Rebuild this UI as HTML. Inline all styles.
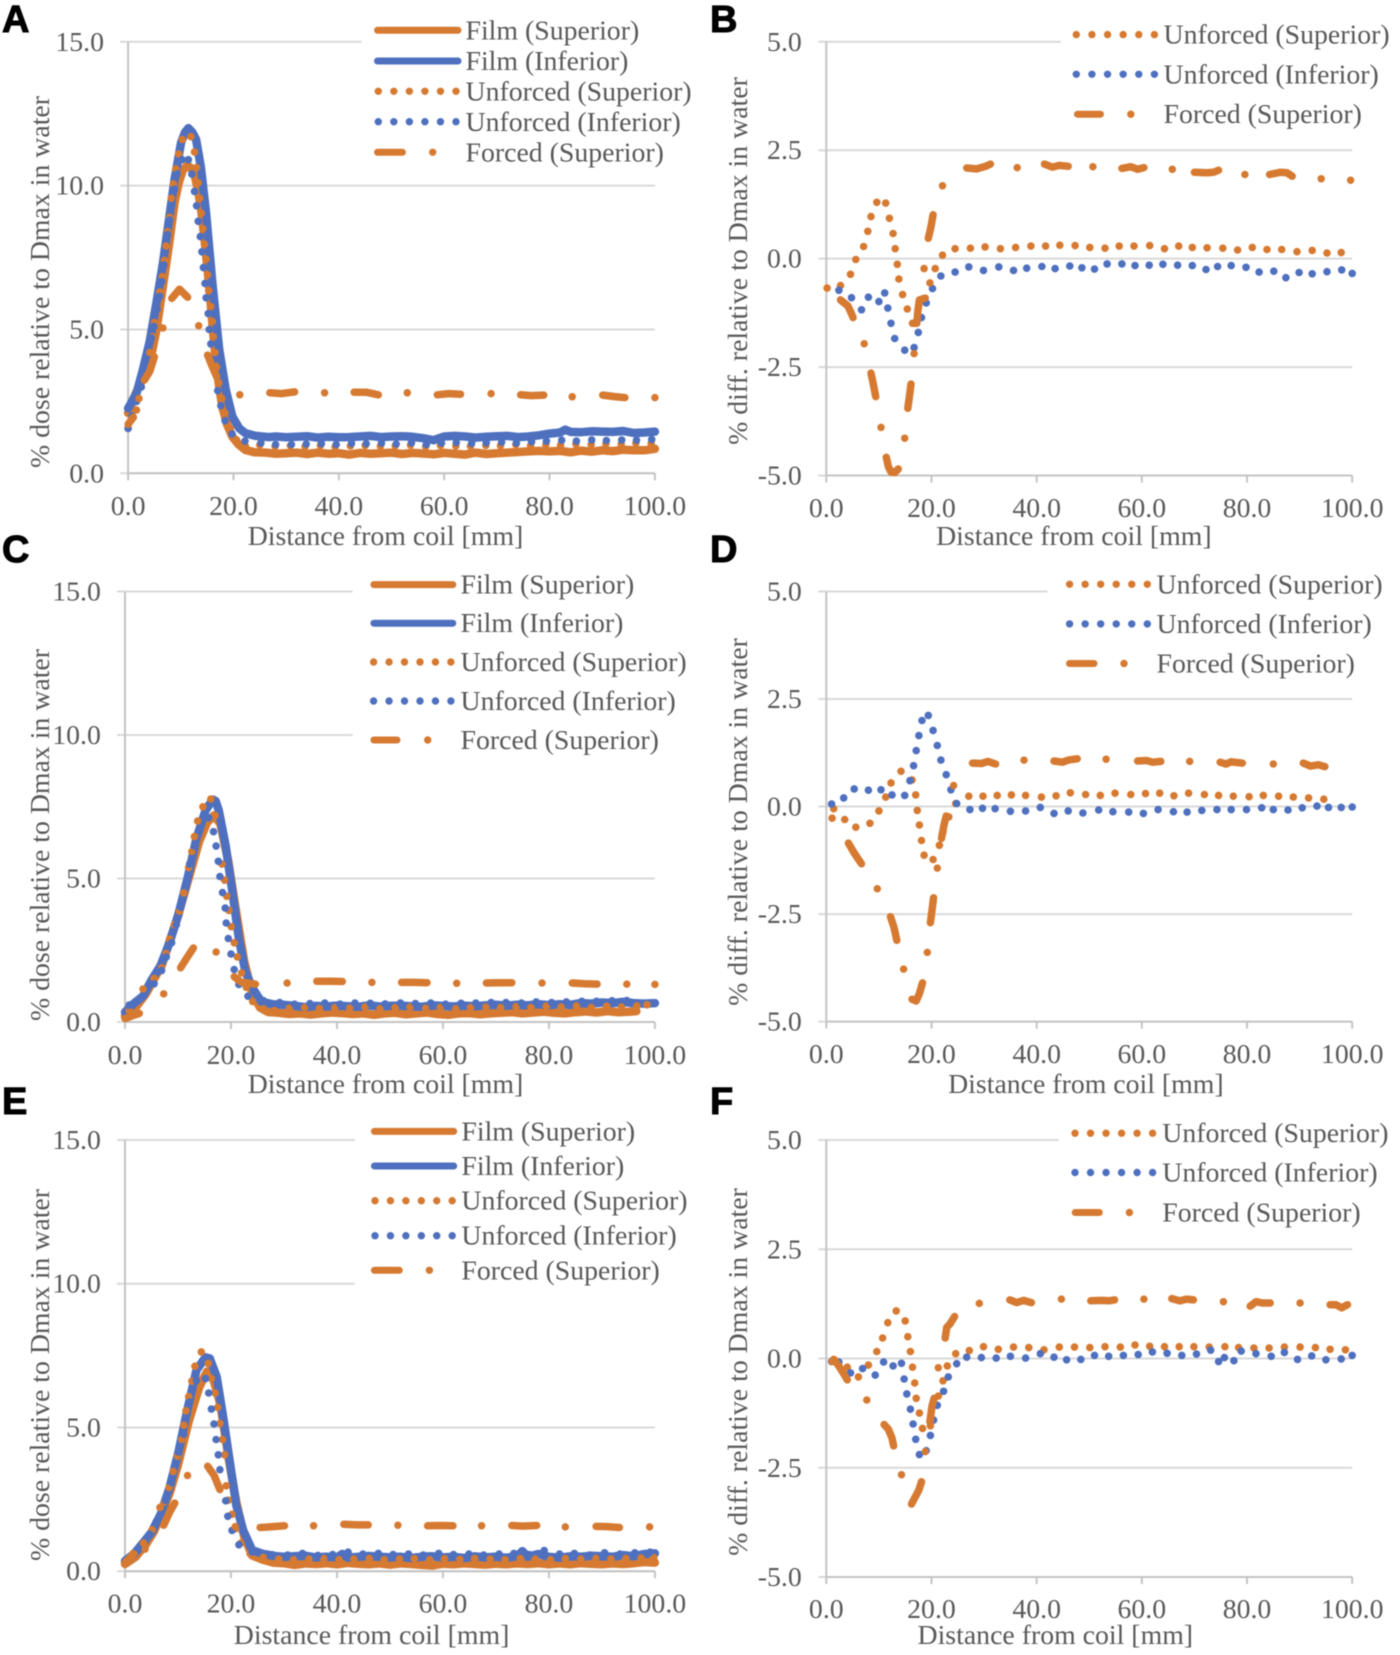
<!DOCTYPE html>
<html lang="en">
<head>
<meta charset="utf-8">
<title>Dose profile charts</title>
<style>
html,body{margin:0;padding:0;background:#fff;}
svg{display:block;filter:blur(0.5px);}
text{font-family:"Liberation Serif",serif;font-size:27.8px;fill:#595959;}
.letter{font-family:"Liberation Sans",sans-serif;font-weight:bold;font-size:38px;fill:#000;stroke:#000;stroke-width:1px;}
.mid{text-anchor:middle;}
</style>
</head>
<body>
<svg id="figure" xmlns="http://www.w3.org/2000/svg" width="1400" height="1655" viewBox="0 0 1400 1655">
<rect x="0" y="0" width="1400" height="1655" fill="#fff"/>

<g id="panel-a"></g>
<g id="panel-b"></g>
<g id="panel-c"></g>
<g id="panel-d"></g>
<g id="panel-e"></g>
<g id="panel-f"></g>

<g>
<text class="letter" x="2" y="32">A</text>
<text class="letter" x="710" y="32">B</text>
<text class="letter" x="2" y="562">C</text>
<text class="letter" x="710" y="562">D</text>
<text class="letter" x="2" y="1114">E</text>
<text class="letter" x="710" y="1114">F</text>
</g>

<g>
<text class="mid" transform="translate(49,282) rotate(-90)">% dose relative to Dmax in water</text>
<text class="mid" transform="translate(747,261) rotate(-90)">% diff. relative to Dmax in water</text>
<text class="mid" transform="translate(49,835) rotate(-90)">% dose relative to Dmax in water</text>
<text class="mid" transform="translate(747,822) rotate(-90)">% diff. relative to Dmax in water</text>
<text class="mid" transform="translate(49,1375) rotate(-90)">% dose relative to Dmax in water</text>
<text class="mid" transform="translate(747,1372) rotate(-90)">% diff. relative to Dmax in water</text>
<text class="mid" x="385.5" y="545">Distance from coil [mm]</text>
<text class="mid" x="1073.9" y="545">Distance from coil [mm]</text>
<text class="mid" x="385.5" y="1093">Distance from coil [mm]</text>
<text class="mid" x="1085.9" y="1093">Distance from coil [mm]</text>
<text class="mid" x="371.6" y="1644">Distance from coil [mm]</text>
<text class="mid" x="1055.3" y="1644">Distance from coil [mm]</text>
</g>

<g stroke-linecap="round">
<line x1="377.5" x2="458" y1="30.3" y2="30.3" stroke="#d67a32" stroke-width="7"/>
<text x="465.5" y="39.5">Film (Superior)</text>
<line x1="377.5" x2="458" y1="61" y2="61" stroke="#4e70bf" stroke-width="7"/>
<text x="465.5" y="70">Film (Inferior)</text>
<line x1="378.3" x2="456.3" y1="91.3" y2="91.3" stroke="#d67a32" stroke-width="7.4" stroke-dasharray="0 15.54"/>
<text x="465.5" y="100.5">Unforced (Superior)</text>
<line x1="378.3" x2="456.3" y1="121.7" y2="121.7" stroke="#4e70bf" stroke-width="7.4" stroke-dasharray="0 15.54"/>
<text x="465.5" y="131">Unforced (Inferior)</text>
<line x1="377.5" x2="402.5" y1="152.3" y2="152.3" stroke="#d67a32" stroke-width="7"/>
<circle cx="432.7" cy="152.3" r="3.7" fill="#d67a32"/>
<text x="465.5" y="161.5">Forced (Superior)</text>
</g>

<g stroke-linecap="round">
<line x1="1076.3" x2="1154.7" y1="34.6" y2="34.6" stroke="#d67a32" stroke-width="7.4" stroke-dasharray="0 15.62"/>
<text x="1163.5" y="43.6">Unforced (Superior)</text>
<line x1="1076.3" x2="1154.7" y1="74.3" y2="74.3" stroke="#4e70bf" stroke-width="7.4" stroke-dasharray="0 15.62"/>
<text x="1163.5" y="83.3">Unforced (Inferior)</text>
<line x1="1077.5" x2="1100.5" y1="114.2" y2="114.2" stroke="#d67a32" stroke-width="7"/>
<circle cx="1130.8" cy="114.2" r="3.7" fill="#d67a32"/>
<text x="1163.5" y="123.2">Forced (Superior)</text>
</g>

<g stroke-linecap="round">
<line x1="373.9" x2="452.8" y1="584.6" y2="584.6" stroke="#d67a32" stroke-width="7"/>
<text x="460.5" y="593.6">Film (Superior)</text>
<line x1="373.9" x2="452.8" y1="623.2" y2="623.2" stroke="#4e70bf" stroke-width="7"/>
<text x="460.5" y="632.2">Film (Inferior)</text>
<line x1="373.6" x2="451.2" y1="662" y2="662" stroke="#d67a32" stroke-width="7.4" stroke-dasharray="0 15.46"/>
<text x="460.5" y="671">Unforced (Superior)</text>
<line x1="373.6" x2="451.2" y1="701" y2="701" stroke="#4e70bf" stroke-width="7.4" stroke-dasharray="0 15.46"/>
<text x="460.5" y="710">Unforced (Inferior)</text>
<line x1="373.9" x2="397" y1="740" y2="740" stroke="#d67a32" stroke-width="7"/>
<circle cx="427.7" cy="740" r="3.7" fill="#d67a32"/>
<text x="460.5" y="749">Forced (Superior)</text>
</g>

<g stroke-linecap="round">
<line x1="1069.6" x2="1147.6" y1="584.3" y2="584.3" stroke="#d67a32" stroke-width="7.4" stroke-dasharray="0 15.54"/>
<text x="1156.5" y="593.3">Unforced (Superior)</text>
<line x1="1069.6" x2="1147.6" y1="623.9" y2="623.9" stroke="#4e70bf" stroke-width="7.4" stroke-dasharray="0 15.54"/>
<text x="1156.5" y="632.9">Unforced (Inferior)</text>
<line x1="1069.5" x2="1094" y1="663.5" y2="663.5" stroke="#d67a32" stroke-width="7"/>
<circle cx="1124" cy="663.5" r="3.7" fill="#d67a32"/>
<text x="1156.5" y="672.5">Forced (Superior)</text>
</g>

<g stroke-linecap="round">
<line x1="374.4" x2="453.7" y1="1131.4" y2="1131.4" stroke="#d67a32" stroke-width="7"/>
<text x="461.4" y="1140.4">Film (Superior)</text>
<line x1="374.4" x2="453.7" y1="1166" y2="1166" stroke="#4e70bf" stroke-width="7"/>
<text x="461.4" y="1175">Film (Inferior)</text>
<line x1="375" x2="452.5" y1="1200.7" y2="1200.7" stroke="#d67a32" stroke-width="7.4" stroke-dasharray="0 15.44"/>
<text x="461.4" y="1209.7">Unforced (Superior)</text>
<line x1="375" x2="452.5" y1="1235.7" y2="1235.7" stroke="#4e70bf" stroke-width="7.4" stroke-dasharray="0 15.44"/>
<text x="461.4" y="1244.7">Unforced (Inferior)</text>
<line x1="374.4" x2="399.3" y1="1270.3" y2="1270.3" stroke="#d67a32" stroke-width="7"/>
<circle cx="429.4" cy="1270.3" r="3.7" fill="#d67a32"/>
<text x="461.4" y="1279.3">Forced (Superior)</text>
</g>

<g stroke-linecap="round">
<line x1="1075" x2="1152.9" y1="1133.2" y2="1133.2" stroke="#d67a32" stroke-width="7.4" stroke-dasharray="0 15.52"/>
<text x="1162.3" y="1142.2">Unforced (Superior)</text>
<line x1="1075" x2="1152.9" y1="1172.5" y2="1172.5" stroke="#4e70bf" stroke-width="7.4" stroke-dasharray="0 15.52"/>
<text x="1162.3" y="1181.5">Unforced (Inferior)</text>
<line x1="1075.2" x2="1099.3" y1="1212.5" y2="1212.5" stroke="#d67a32" stroke-width="7"/>
<circle cx="1129.4" cy="1212.5" r="3.7" fill="#d67a32"/>
<text x="1162.3" y="1221.5">Forced (Superior)</text>
</g>
</svg>

<script>
/* ---------- Shared axis values ---------- */
const xTickValues = [0, 20, 40, 60, 80, 100];
const xTickLabels = ['0.0', '20.0', '40.0', '60.0', '80.0', '100.0'];
const doseTickValues = [0, 5, 10, 15];
const doseTickLabels = ['0.0', '5.0', '10.0', '15.0'];
const diffTickValues = [-5, -2.5, 0, 2.5, 5];
const diffTickLabels = ['-5.0', '-2.5', '0.0', '2.5', '5.0'];

/* ---------- Panel A ---------- */
const aFilmSupX = [0,1.5,2.8,4.1,5.4,6.6,7.8,8.8,9.6,10.4,11.3,12,12.6,13.2,13.8,14.6,15.4,16.1,16.7,17.3,17.9,18.8,19.8,21,22.3,24,26.1,28,30,32,34,36,38,40,42,44,46,48,50,52,54,56,58,60,62,64,66,68,70,72,74,76,78,80,82,84,86,88,90,92,94,96,98,100];
const aFilmSupY = [2.1,2.8,3.3,3.83,5,6.5,8,9.4,10.1,10.55,10.7,10.6,10.4,9.9,9.27,8,6.5,5,3.83,3,2.3,1.7,1.27,1,.81,.73,.72,.68,.7,.72,.67,.72,.68,.7,.65,.71,.68,.7,.72,.67,.71,.69,.66,.71,.68,.65,.72,.67,.7,.72,.74,.76,.78,.76,.78,.73,.79,.75,.8,.77,.82,.8,.8,.85];
const aFilmInfX = [0,1.6,2.8,4.1,5.35,6.6,7.9,8.8,10.06,10.8,11.45,12.2,12.9,13.8,14.8,16,17.3,18.55,19.8,21.1,22.3,24.2,26.7,28,30,32,34,36,38,40,42,44,46,48,50,52,54,56,58,60,62,64,66,68,70,72,74,76,78,80,82,83,84,86,88,90,92,94,96,98,100];
const aFilmInfY = [2.26,2.78,3.6,4.58,5.9,7.3,9,10.2,11.5,11.85,12,11.85,11.6,10.66,9.04,6.6,4.3,2.9,1.97,1.56,1.39,1.3,1.26,1.28,1.25,1.27,1.29,1.24,1.27,1.25,1.26,1.28,1.3,1.26,1.28,1.29,1.27,1.22,1.15,1.28,1.3,1.28,1.24,1.27,1.29,1.3,1.26,1.28,1.32,1.38,1.42,1.52,1.44,1.43,1.46,1.45,1.44,1.47,1.4,1.42,1.45];
const aUnfSupX = [0,1.6,4.1,4.6,5,5.5,6,6.5,6.9,7.2,7.5,7.9,8.2,8.6,9.06,9.6,10.3,11.9,12.6,13,13.3,13.6,13.9,14.2,14.5,14.8,15.1,15.3,15.7,16,16.2,16.5,16.8,17.2,17.8,18.4,19.4,20.6,22.3,25,27.9,30.8,33.6,36.5,39.3,42.2,45,47.9,50.7,53.6,56.5,59.3,62.2,65,67.9,70.7,73.6,76.4,79.3,82.1,85,87.9,90.7,93.6,96.4,99.3];
const aUnfSupY = [1.56,2.2,4.2,4.75,5.24,5.7,6.3,6.84,7.4,7.9,8.4,8.9,9.56,10.06,10.58,11.1,11.6,11.7,11.17,10.63,10.1,9.56,9.04,8.5,7.96,7.44,6.9,6.35,5.8,5.28,4.75,4.2,3.7,3.15,2.6,2.09,1.56,1.16,.93,.98,.94,.96,.93,.97,.92,.95,.97,.94,.96,.98,.93,.97,.95,.94,.97,.96,1,.97,1,.98,1.02,1,1.03,1.02,1.05,1.04];
const aUnfInfX = [0,.75,1.6,2.5,3.4,4.4,4.9,5.5,6,6.4,6.8,7.5,7.9,8.3,8.8,9.3,10.25,11.45,12.1,12.6,13,13.3,13.7,14,14.3,14.6,14.8,15.2,15.4,15.7,16.2,17,17.6,18.4,19.75,22.2,25.2,28,31,33.8,36.7,39.5,42.4,45.2,48.1,50.9,53.8,56.6,59.5,62.3,65.2,68,70.9,73.7,76.6,79.4,82.3,85.1,88,90.8,93.7,96.5,99.4];
const aUnfInfY = [1.56,2,2.5,3,3.7,4.7,5.1,5.7,6.15,6.66,7.24,8.3,8.8,9.3,9.87,10.4,10.9,10.9,10.4,9.8,9.3,8.76,8.23,7.7,7.15,6.6,6.1,5.55,5,4.5,3.95,2.87,2.35,1.83,1.37,1.12,1.05,1,1,1.02,1.03,1,1.04,1.03,1.05,1.02,1.06,1,1.05,1.07,1.04,1.06,1.08,1.05,1.1,1.12,1.15,1.12,1.16,1.14,1.16,1.15,1.18];
const aForcedX = [0,1,null,2.07,null,3.1,4.1,5,null,6.6,null,8.3,9.75,11.3,null,13.4,null,15.1,16,16.8,null,21.2,null,26.9,29.1,31.6,null,37.3,null,42.9,45.2,47.5,null,53,null,58.7,60.8,63.1,null,68.9,null,74.5,76.5,78.9,null,84.3,null,90.1,92.2,94.3,null,100];
const aForcedY = [1.7,1.95,null,2.6,null,3.24,3.54,4.05,null,5.05,null,6.08,6.4,6.12,null,5.13,null,4.11,3.7,3.36,null,2.73,null,2.8,2.77,2.83,null,2.8,null,2.82,2.82,2.73,null,2.8,null,2.73,2.77,2.75,null,2.77,null,2.73,2.7,2.72,null,2.66,null,2.72,2.67,2.63,null,2.63];

/* ---------- Panel B ---------- */
const bUnfSupX = [.16,2.7,4.6,5.6,7.1,7.9,8.5,9.6,11.3,12,12.7,13.1,13.5,13.8,14.5,15.4,18.6,20.7,22.1,24.5,27.4,30.2,33.1,36,38.9,41.7,44.4,47.3,50.1,53,55.7,58.5,61.5,64.3,67,69.6,72.4,75.4,78.2,81,83.8,86.6,89.5,92.4,95.2,97.9];
const bUnfSupY = [-.68,-.62,-.36,-.02,.28,.63,.97,1.3,1.28,.93,.58,.23,-.13,-.47,-.83,-1.16,-.23,-.23,.08,.23,.24,.27,.23,.26,.29,.29,.31,.3,.26,.24,.29,.29,.3,.23,.29,.26,.25,.24,.2,.26,.21,.21,.16,.19,.13,.14];
const bUnfInfX = [2.4,4.8,6.7,8,10,11.1,11.7,12.3,13,14.9,16.7,17.5,18.1,19,20.2,21.8,24.5,27.1,29.9,32.8,35.6,38.1,41,43.5,46.3,48.6,51,53.4,56.2,58.7,61.4,64,66.8,69.6,72.2,74.4,77,79.8,82.3,85.1,87.4,89.9,92.4,95.2,98,100];
const bUnfInfY = [-.73,-.9,-1.18,-.89,-.99,-.79,-1.14,-1.49,-1.84,-2.11,-2.05,-1.7,-1.36,-1.02,-.69,-.4,-.31,-.19,-.27,-.19,-.27,-.22,-.18,-.23,-.17,-.21,-.24,-.12,-.12,-.16,-.15,-.13,-.15,-.16,-.25,-.18,-.16,-.2,-.31,-.29,-.44,-.32,-.35,-.3,-.26,-.34];
const bForcedX = [2.7,3.4,4.1,4.6,5.1,null,7.2,null,8.5,8.9,9.4,null,10.4,null,11.4,11.8,12.3,13,13.7,null,14.9,null,15.5,15.8,16.1,null,16.7,null,16.4,17.2,17.4,17.7,18.8,null,19.7,null,19.4,19.9,20.3,null,22.1,null,26.7,28.6,30.3,31.2,null,36.3,null,41.5,43,44.3,46,null,50.7,null,56.2,57.9,59.2,60.4,null,65.8,null,70,72.3,73.6,74.6,null,79.6,null,84.3,86.3,87.6,88.6,null,94.1,null,99.7];
const bForcedY = [-.95,-1.02,-1.09,-1.22,-1.36,null,-1.96,null,-2.64,-2.87,-3.18,null,-3.89,null,-4.58,-4.8,-4.92,-4.93,-4.85,null,-4.14,null,-3.45,-3.18,-2.89,null,-2.19,null,-1.49,-1.49,-1.22,-.95,-.91,null,-.56,null,.47,.74,1.01,null,1.68,null,2.09,2.07,2.13,2.18,null,2.1,null,2.18,2.11,2.15,2.13,null,2.12,null,2.08,2.12,2.06,2.1,null,2.06,null,1.99,1.98,1.99,2.04,null,1.94,null,1.94,1.99,1.98,1.9,null,1.84,null,1.81];

/* ---------- Panel C ---------- */
const cFilmSupX = [0,2,4,5.5,7,8.5,10,12,14,15.5,16.8,18,19.5,21,22.5,24,25.5,27,29,31,33,35,37,39,41,43,45,47,49,51,53,55,57,59,61,63,65,67,69,71,73,75,77,79,81,83,85,87,89,91,93,95,96.5];
const cFilmSupY = [.2,.5,1,1.5,2,2.85,3.7,5,6.3,6.95,7.2,6.9,5.6,3.8,2.1,1,.5,.35,.32,.28,.3,.26,.3,.33,.31,.28,.3,.25,.3,.32,.27,.3,.33,.28,.25,.3,.31,.27,.3,.32,.34,.3,.33,.36,.32,.3,.34,.37,.33,.38,.34,.36,.38];
const cFilmInfX = [0,1.7,3.4,5,6.7,8.4,10.1,11.8,13.5,15.2,16,16.6,17.1,17.7,19,20.2,21.5,22.7,24,25.7,27.8,30,32,34,36,38,40,42,44,46,48,50,52,54,56,58,60,62,64,66,68,70,72,74,76,78,80,82,84,86,88,90,92,94,96,98,100];
const cFilmInfY = [.34,.65,.9,1.46,1.96,2.76,3.76,5,6.4,7.37,7.6,7.75,7.7,7.37,6.13,4.63,2.9,1.77,1.2,.71,.62,.6,.56,.52,.56,.54,.57,.55,.53,.58,.54,.56,.57,.55,.53,.58,.56,.54,.57,.55,.58,.6,.57,.6,.58,.62,.59,.62,.6,.66,.64,.68,.66,.7,.66,.64,.66];
const cUnfSupX = [.8,3.4,5.5,6.9,7.75,8.4,9.3,10.3,11.1,12,12.6,13.1,13.7,14.7,16.2,17,18.3,18.8,19.2,19.6,20.05,20.6,21.2,22,22.9,24.1,26.1,28.2,31,33.9,36.7,39.6,42.4,45.3,48.1,51,53.8,56.7,59.5,62.4,65.2,68.1,70.9,73.8,76.6,79.5,82.3,85.2,88,90.9,93.7,96.6,98.5];
const cUnfSupY = [.4,1.15,1.52,1.89,2.39,2.89,3.39,3.86,4.5,5.38,5.94,6.46,7,7.5,7.77,7.19,5.5,4.94,4.38,3.89,3.32,2.76,2.27,1.71,1.21,.71,.46,.4,.48,.5,.47,.5,.48,.52,.46,.5,.52,.48,.5,.46,.5,.52,.5,.54,.5,.55,.52,.56,.5,.55,.52,.56,.6];
const cUnfInfX = [.8,3.5,5.5,6.9,7.8,8.8,9.7,10.5,11.4,12.2,13.1,13.9,15.8,16.7,17.2,17.6,17.9,18.4,18.9,19.1,19.5,20,20.6,21.5,23.2,26.1,29.2,32,34.9,37.7,40.6,43.4,46.3,49.1,52,54.8,57.7,60.5,63.4,66.2,69.1,71.9,74.8,77.6,80.5,83.3,86.2,89,91.9,94.7];
const cUnfInfY = [.59,.9,1.33,1.79,2.27,2.76,3.39,4,4.76,5.5,6.13,6.69,7.12,6.63,6.13,5.6,5.07,4.51,3.97,3.45,2.91,2.37,1.83,1.31,.9,.75,.68,.62,.64,.66,.62,.66,.65,.63,.66,.64,.66,.62,.65,.66,.68,.68,.66,.7,.68,.7,.72,.72,.74,.75];
const cForcedX = [0,1.3,2.7,null,7.3,null,10.5,11.8,12.9,null,17.2,null,20.6,21.9,24.6,null,30.6,null,36.2,38.8,41,null,46.6,null,52.2,54.8,57,null,62.6,null,68.2,70.4,73,null,78.7,null,84.4,86.8,89.1,null,94.7,null,100];
const cForcedY = [.12,.21,.3,null,.98,null,1.89,2.27,2.58,null,2.44,null,1.58,1.39,1.32,null,1.36,null,1.42,1.42,1.41,null,1.38,null,1.38,1.38,1.37,null,1.35,null,1.36,1.37,1.37,null,1.36,null,1.36,1.33,1.32,null,1.32,null,1.31];

/* ---------- Panel D ---------- */
const dUnfSupX = [1.1,1.4,3.5,5.6,8.3,10,11.3,12.3,14.2,16.3,17,17.3,17.7,18.1,18.6,20.3,21.5,22.2,23.3,24.6,27.1,29.8,32.5,35.2,37.9,40.9,43.7,46.4,49.3,52.1,54.9,57.9,60.7,63.4,66.1,68.9,71.9,74.6,77.4,80.4,83.1,86,88.8,91.7,94.6];
const dUnfSupY = [-.27,-.05,-.3,-.48,-.39,-.1,.22,.55,.82,.62,.27,-.09,-.43,-.79,-1.13,-1.23,-.9,-.59,-.24,.07,.24,.24,.26,.27,.26,.22,.25,.32,.28,.26,.31,.28,.3,.31,.25,.31,.28,.26,.24,.23,.26,.24,.22,.2,.17];
const dUnfInfX = [1,3.3,5.3,8,10.4,12.5,14.9,15.9,16.6,17.1,17.6,18.2,19.4,20.3,21.1,21.8,22.8,23.7,24.8,27.3,29.7,32.1,35,37.9,40.7,43.3,46,48.8,51.8,54.5,57.5,60.3,63.1,66,68.6,71.4,74.3,77,79.9,82.8,85,87.8,90.5,93.3,95.5,97.9,100];
const dUnfInfY = [.06,.2,.41,.38,.39,.27,.26,.6,.95,1.3,1.65,2,2.12,1.77,1.42,1.08,.74,.39,.07,-.07,-.04,-.05,-.11,-.1,-.02,-.16,-.1,-.15,-.08,-.12,-.13,-.16,-.07,-.12,-.13,-.09,-.07,-.07,-.07,-.03,-.07,-.08,-.03,.01,-.02,-.02,-.01];
const dForcedX = [4.2,5.3,6.7,null,9.7,null,12.2,12.9,13.4,null,14.7,null,16.3,17.1,17.7,18.3,null,19.2,null,19.8,20.1,20.4,null,21.1,null,21.9,22.4,22.8,null,24.2,null,27.8,29.5,30.7,32.2,null,37.6,null,43.3,44.9,46,47.7,null,53.2,null,59.2,60.9,62.1,63.6,null,69.1,null,74.9,76,77,79.1,null,85,null,90.7,92.1,93.5,94.8];
const dForcedY = [-.85,-1.08,-1.33,null,-1.91,null,-2.56,-2.82,-3.11,null,-3.78,null,-4.48,-4.52,-4.35,-4.1,null,-3.39,null,-2.7,-2.41,-2.12,null,-1.43,null,-.74,-.42,-.22,null,.49,null,1.01,1,1.05,.99,null,1.08,null,1.06,1.03,1.08,1.11,null,1.1,null,1.06,1.07,1.03,1.05,null,1.05,null,1.03,.99,1.04,1.01,null,.99,null,1.01,.94,.97,.93];

/* ---------- Panel E ---------- */
const eFilmSupX = [0,2,4,5.5,7,8.5,10,12,14,15.5,16.5,18,19.5,21,22.5,24,26,28,30,32,34,36,38,40,42,44,46,48,50,52,54,56,58,60,62,64,66,68,70,72,74,76,78,80,82,84,86,88,90,92,94,96,98,100];
const eFilmSupY = [.25,.5,.95,1.4,2.05,2.75,3.7,5.2,6.4,6.95,6.8,5.8,4,2.4,1.2,.55,.4,.3,.28,.22,.27,.25,.28,.24,.29,.26,.24,.27,.23,.27,.25,.22,.2,.26,.24,.27,.25,.23,.26,.24,.27,.25,.28,.24,.27,.24,.28,.26,.24,.27,.25,.28,.32,.3];
const eFilmInfX = [0,1.7,3.4,5,6.7,8.4,10.1,11.8,13.5,15.2,16,17.3,18.5,19.8,21,22.3,24,26.1,28.6,30,32,34,36,38,40,41,42,44,46,48,50,52,54,56,58,60,62,64,66,68,70,72,74,75,76,78,80,82,84,86,88,90,92,94,96,98,100];
const eFilmInfY = [.36,.6,.98,1.35,1.97,2.9,4.15,5.64,7,7.44,7.4,6.76,5.4,3.78,2.29,1.42,.73,.6,.52,.5,.52,.54,.48,.5,.48,.6,.47,.5,.53,.5,.48,.5,.46,.5,.52,.48,.5,.46,.52,.48,.5,.47,.52,.7,.5,.6,.5,.47,.52,.5,.54,.52,.5,.56,.52,.6,.62];
const eUnfSupX = [1.5,3.5,5.1,6.6,7.4,8.3,9.1,9.9,10.7,11.1,11.5,12,12.6,13.2,14.4,15.7,16.3,17,17.5,17.9,18.4,18.8,19.1,19.5,20.2,20.9,21.9,23.6,26.1,29,31.8,34.7,37.5,40.4,43.2,46.1,48.9,51.8,54.6,57.5,60.3,63.2,66,68.9,71.7,74.6,77.4,80.3,83.1,86,88.8,91.7,94.5,97.4,99.8];
const eUnfSupY = [.61,.98,1.44,2.22,2.41,2.91,3.47,4,4.58,5.08,5.58,6.07,6.61,7.13,7.63,7.23,6.7,6.2,5.7,5.14,4.58,4.05,2.97,2.47,1.98,1.48,.98,.61,.48,.42,.4,.42,.44,.4,.42,.44,.4,.42,.44,.4,.43,.41,.44,.42,.4,.44,.42,.4,.44,.42,.45,.42,.44,.46,.48];
const eUnfInfX = [.8,2.5,4.6,5.9,7.6,8.8,10.1,11.1,12.2,13.5,15.2,15.8,16.3,16.8,17.2,17.6,17.9,19,19.4,20.2,21.5,24,27.8,30.7,33.5,36.4,39.2,42.1,44.9,47.8,50.6,53.5,56.3,59.2,62,64.9,67.7,70.6,73.4,76.3,79.1,82,84.8,87.7,90.5,93.4,96.2,99.1];
const eUnfInfY = [.42,.73,1.29,1.73,2.47,3.09,4.15,4.77,5.89,6.63,6.7,6.2,5.64,5.12,4.58,4.05,3.53,2.45,1.91,1.42,.92,.67,.57,.56,.62,.55,.58,.66,.6,.62,.58,.6,.56,.62,.58,.6,.56,.6,.62,.58,.72,.6,.62,.56,.64,.6,.64,.66];
const eForcedX = [0,1.7,null,3.8,null,7.3,8.4,9.4,null,11.8,null,15.6,16.8,17.9,null,20.8,null,25.5,27.4,30.1,null,35.6,null,41.3,43.8,45.9,null,51.5,null,57.1,59.4,61.9,null,67.3,null,73,75,77.7,null,83.1,null,88.9,91,93.3,null,99];
const eForcedY = [.3,.6,null,.77,null,1.6,2.04,2.37,null,3.33,null,3.65,3.34,2.84,null,1.55,null,1.52,1.54,1.58,null,1.58,null,1.63,1.61,1.61,null,1.6,null,1.58,1.59,1.58,null,1.58,null,1.59,1.57,1.59,null,1.54,null,1.56,1.55,1.52,null,1.54];

/* ---------- Panel F ---------- */
const fUnfSupX = [1.4,4,6.1,8,9.6,10.7,11.7,13.3,15,15.5,16,16.4,16.8,17.1,17.7,18.3,19.8,21.3,22.2,23,24.6,27.2,29.9,32.7,35.6,38.5,41.4,44.3,47.2,50.1,53,55.9,58.7,61.5,64.3,67.1,69.9,72.8,75.8,78.4,81.3,84.2,87.1,90.1,93,95.8,98.7];
const fUnfSupY = [-.02,-.2,-.42,-.15,.16,.47,.82,1.09,.86,.5,.16,-.2,-.56,-.91,-1.25,-1.6,-1.54,-.86,-.51,-.17,.11,.18,.27,.21,.26,.25,.2,.26,.26,.25,.27,.26,.31,.28,.27,.27,.27,.26,.27,.25,.24,.24,.26,.26,.25,.21,.2];
const fUnfInfX = [1,2.4,4.6,6.9,9.3,10.9,12.7,14.3,14.8,15.3,16,16.5,17,17.7,19,19.8,20.4,21.1,22.3,23.2,24.8,26.7,29.5,32.3,35,37.9,40.7,43.3,45.7,48.4,51,53.7,56.5,59.3,62,64.8,67.6,70.4,73.1,74.6,75.7,77.5,78.9,81.7,84.6,87.1,89.6,92.3,95,97.9,100];
const fUnfInfY = [-.07,-.08,-.33,-.23,-.38,-.08,-.17,-.11,-.47,-.81,-1.16,-1.5,-1.85,-2.2,-2.11,-1.76,-1.41,-1.07,-.75,-.42,-.12,.03,.02,.01,.05,.01,.11,.03,-.03,-.02,.07,.05,.07,.09,.15,.12,.07,.1,.19,-.07,.02,-.05,.17,.11,.05,.14,-.02,.06,-.03,-.01,.07];
const fForcedX = [1.1,1.6,2.5,3.3,4,null,7.7,null,11,11.8,12.5,12.8,null,14.3,null,16.2,16.9,17.6,18.1,null,18.8,null,19.7,20.1,20.5,null,21.3,null,22.6,22.9,23.5,24.4,null,29.1,null,34.9,36.2,37.5,39,null,44.7,null,50.3,52.4,53.7,54.8,null,60.4,null,65.7,67.2,68.5,69.8,null,75.5,null,80.6,81.7,82.9,84.4,null,90.1,null,95.8,96.9,98,99.1];
const fForcedY = [-.07,-.04,-.19,-.35,-.49,null,-.95,null,-1.51,-1.62,-1.82,-2,null,-2.66,null,-3.33,-3.17,-3.01,-2.82,null,-2.13,null,-1.45,-1.09,-.91,null,-.21,null,.47,.71,.79,.96,null,1.26,null,1.34,1.28,1.33,1.28,null,1.36,null,1.32,1.33,1.32,1.34,null,1.36,null,1.37,1.32,1.36,1.34,null,1.3,null,1.2,1.3,1.27,1.27,null,1.27,null,1.23,1.23,1.16,1.23];

/* ---------- Drawing ---------- */
const SVG_NS = 'http://www.w3.org/2000/svg';
const ORANGE = '#d67a32';
const BLUE = '#4e70bf';

function make(tag, parent, props) {
  const el = document.createElementNS(SVG_NS, tag);
  Object.keys(props).forEach(function (k) { el.setAttribute(k, props[k]); });
  parent.appendChild(el);
  return el;
}

function drawAxes(g, p) {
  const sx = function (v) { return p.x0 + (v - 0) / 100 * (p.x1 - p.x0); };
  const sy = function (v) { return p.yBottom + (v - p.vMin) / (p.vMax - p.vMin) * (p.yTop - p.yBottom); };

  p.yTicks.forEach(function (v, i) {
    const grid = make('line', g, { x1: p.x0 - 8, x2: p.x1, y1: sy(v), y2: sy(v), stroke: '#d9d9d9', 'stroke-width': 2 });
    
    
    const t = make('text', g, { x: p.labelRight, y: sy(v) + 9, 'text-anchor': 'end' });
    t.textContent = p.yLabels[i];
    
    
  });

  const mask = make('rect', g, { x: p.cut.x, y: p.cut.y, width: p.x1 + 4 - p.cut.x, height: p.cut.h, fill: '#fff' });
  
  

  const yAxis = make('line', g, { x1: p.x0, x2: p.x0, y1: p.yTop, y2: p.yBottom, stroke: '#c4c4c4', 'stroke-width': 2 });
  
  
  const xAxis = make('line', g, { x1: p.x0, x2: p.x1, y1: p.yBottom, y2: p.yBottom, stroke: '#c4c4c4', 'stroke-width': 2 });
  
  

  xTickValues.forEach(function (v, i) {
    const tick = make('line', g, { x1: sx(v), x2: sx(v), y1: p.yBottom, y2: p.yBottom + 7, stroke: '#c4c4c4', 'stroke-width': 2 });
    
    
    const t = make('text', g, { x: sx(v), y: p.xLabelY, 'text-anchor': 'middle' });
    t.textContent = xTickLabels[i];
    
    
  });
  return { sx: sx, sy: sy };
}

function drawLine(g, xs, ys, color, scale, name) {
  let d = '';
  xs.forEach(function (x, i) { d += (i ? 'L' : 'M') + scale.sx(x).toFixed(1) + ' ' + scale.sy(ys[i]).toFixed(1); });
  const path = make('path', g, { d: d, fill: 'none', stroke: color, 'stroke-width': 8.5, 'stroke-linecap': 'round', 'stroke-linejoin': 'round' });
  
  
}

function drawDots(g, xs, ys, color, scale, name) {
  const group = make('g', g, { fill: color });
  
  
  xs.forEach(function (x, i) {
    const c = make('circle', group, { cx: scale.sx(x).toFixed(1), cy: scale.sy(ys[i]).toFixed(1), r: 3.8 });
    
    
  });
}

function drawForced(g, xs, ys, scale) {
  const group = make('g', g, { fill: 'none', stroke: ORANGE, 'stroke-width': 7.5, 'stroke-linecap': 'round', 'stroke-linejoin': 'round' });
  
  
  let d = '';
  let first = true;
  let count = 0;
  const flush = function () {
    if (!count) { return; }
    if (count === 1) {
      const p = d.slice(1);
      d = 'M' + p + 'L' + p;
    }
    const seg = make('path', group, { d: d });
    
    
    d = '';
    first = true;
    count = 0;
  };
  xs.forEach(function (x, i) {
    if (x === null) { flush(); return; }
    d += (first ? 'M' : 'L') + scale.sx(x).toFixed(1) + ' ' + scale.sy(ys[i]).toFixed(1);
    first = false;
    count += 1;
  });
  flush();
}

function dosePanel(id, geo, s) {
  const g = document.getElementById(id);
  const p = Object.assign({ vMin: 0, vMax: 15, yTicks: doseTickValues, yLabels: doseTickLabels }, geo);
  const scale = drawAxes(g, p);
  drawLine(g, s.filmSupX, s.filmSupY, ORANGE, scale, 'series-film-superior');
  drawLine(g, s.filmInfX, s.filmInfY, BLUE, scale, 'series-film-inferior');
  drawDots(g, s.unfSupX, s.unfSupY, ORANGE, scale, 'series-unforced-superior');
  drawDots(g, s.unfInfX, s.unfInfY, BLUE, scale, 'series-unforced-inferior');
  drawForced(g, s.forcedX, s.forcedY, scale);
}

function diffPanel(id, geo, s) {
  const g = document.getElementById(id);
  const p = Object.assign({ vMin: -5, vMax: 5, yTicks: diffTickValues, yLabels: diffTickLabels }, geo);
  const scale = drawAxes(g, p);
  drawDots(g, s.unfSupX, s.unfSupY, ORANGE, scale, 'series-unforced-superior');
  drawDots(g, s.unfInfX, s.unfInfY, BLUE, scale, 'series-unforced-inferior');
  drawForced(g, s.forcedX, s.forcedY, scale);
}

dosePanel('panel-a',
  { x0: 128.1, x1: 654.9, yTop: 41.8, yBottom: 473.3, labelRight: 104, xLabelY: 515, cut: { x: 361.7, y: 15, h: 155 } },
  { filmSupX: aFilmSupX, filmSupY: aFilmSupY, filmInfX: aFilmInfX, filmInfY: aFilmInfY, unfSupX: aUnfSupX, unfSupY: aUnfSupY, unfInfX: aUnfInfX, unfInfY: aUnfInfY, forcedX: aForcedX, forcedY: aForcedY });

diffPanel('panel-b',
  { x0: 826.3, x1: 1352.2, yTop: 41.8, yBottom: 475.5, labelRight: 801.8, xLabelY: 517, cut: { x: 1060.7, y: 20, h: 110 } },
  { unfSupX: bUnfSupX, unfSupY: bUnfSupY, unfInfX: bUnfInfX, unfInfY: bUnfInfY, forcedX: bForcedX, forcedY: bForcedY });

dosePanel('panel-c',
  { x0: 125, x1: 654.9, yTop: 591.5, yBottom: 1022, labelRight: 100.9, xLabelY: 1064, cut: { x: 352.7, y: 565, h: 195 } },
  { filmSupX: cFilmSupX, filmSupY: cFilmSupY, filmInfX: cFilmInfX, filmInfY: cFilmInfY, unfSupX: cUnfSupX, unfSupY: cUnfSupY, unfInfX: cUnfInfX, unfInfY: cUnfInfY, forcedX: cForcedX, forcedY: cForcedY });

diffPanel('panel-d',
  { x0: 826.3, x1: 1352.2, yTop: 591.5, yBottom: 1021.6, labelRight: 801.8, xLabelY: 1063, cut: { x: 1047.3, y: 570, h: 110 } },
  { unfSupX: dUnfSupX, unfSupY: dUnfSupY, unfInfX: dUnfInfX, unfInfY: dUnfInfY, forcedX: dForcedX, forcedY: dForcedY });

dosePanel('panel-e',
  { x0: 125, x1: 654.9, yTop: 1140, yBottom: 1571.2, labelRight: 100.9, xLabelY: 1612.6, cut: { x: 354.9, y: 1115, h: 175 } },
  { filmSupX: eFilmSupX, filmSupY: eFilmSupY, filmInfX: eFilmInfX, filmInfY: eFilmInfY, unfSupX: eUnfSupX, unfSupY: eUnfSupY, unfInfX: eUnfInfX, unfInfY: eUnfInfY, forcedX: eForcedX, forcedY: eForcedY });

diffPanel('panel-f',
  { x0: 826.3, x1: 1352.2, yTop: 1140, yBottom: 1577, labelRight: 801.8, xLabelY: 1618, cut: { x: 1058.5, y: 1118, h: 110 } },
  { unfSupX: fUnfSupX, unfSupY: fUnfSupY, unfInfX: fUnfInfX, unfInfY: fUnfInfY, forcedX: fForcedX, forcedY: fForcedY });
</script>
</body>
</html>
